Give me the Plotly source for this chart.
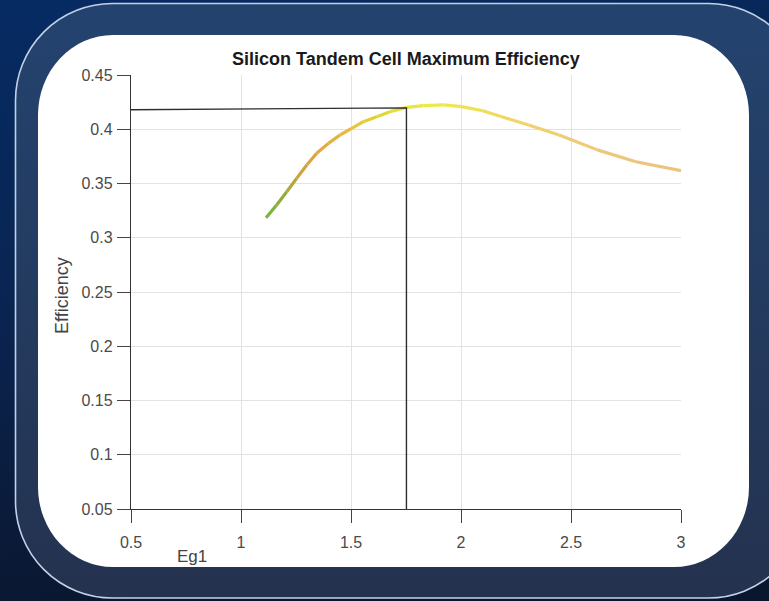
import base64
import plotly.graph_objects as go

# ---------------- data ----------------
eg1 = [1.114, 1.162, 1.208, 1.253, 1.299, 1.344, 1.397, 1.450, 1.503, 1.556, 1.617, 1.677,
       1.753, 1.829, 1.920, 2.003, 2.099, 2.185, 2.307, 2.446, 2.620, 2.795, 3.000]
efficiency = [0.3185, 0.3302, 0.3424, 0.3547, 0.3670, 0.3778, 0.3870, 0.3947, 0.4009, 0.4070,
              0.4116, 0.4162, 0.4202, 0.4217, 0.4224, 0.4208, 0.4171, 0.4116, 0.4039, 0.3947,
              0.3810, 0.3700, 0.3618]
segment_colors = ["#7fb23e", "#94ad3a", "#b2a83a", "#cfa23c", "#dda440", "#e4a944",
                  "#e6b042", "#e6bb3e", "#e6c63a", "#e4d036", "#e2d836", "#e4e03a",
                  "#e8e640", "#ece846", "#eee64c", "#eee254", "#efdc5e", "#f0d666",
                  "#f0d06e", "#eecb76", "#ecc77c", "#ebc47e"]

ref_x = [0.5, 1.752, 1.752]
ref_y = [0.4180, 0.4197, 0.05]

x_ticks = [0.5, 1, 1.5, 2, 2.5, 3]
x_tick_text = ["0.5", "1", "1.5", "2", "2.5", "3"]
y_ticks = [0.05, 0.1, 0.15, 0.2, 0.25, 0.3, 0.35, 0.4, 0.45]
y_tick_text = ["0.05", "0.1", "0.15", "0.2", "0.25", "0.3", "0.35", "0.4", "0.45"]

title_text = "Silicon Tandem Cell Maximum Efficiency"
x_title = "Eg1"
y_title = "Efficiency"

# ---------------- layout geometry (pixels) ----------------
W, H = 769, 601
L, R, T, B = 131, 681, 75, 509  # plot area


def px_x(px):
    return (px - L) / (R - L)


def px_y(py):
    return (B - py) / (B - T)


bg_svg = f"""<svg xmlns='http://www.w3.org/2000/svg' width='{W}' height='{H}' viewBox='0 0 {W} {H}'>
<defs>
<linearGradient id='bg' x1='0' y1='0' x2='0.25' y2='1'>
<stop offset='0' stop-color='#062b63'/><stop offset='0.5' stop-color='#0a2450'/><stop offset='1' stop-color='#0a162e'/>
</linearGradient>
<linearGradient id='fr' x1='0' y1='0' x2='0' y2='1'>
<stop offset='0' stop-color='#23436f'/><stop offset='1' stop-color='#24324f'/>
</linearGradient>
</defs>
<rect x='0' y='0' width='{W}' height='{H}' fill='url(#bg)'/>
<rect x='15.5' y='3.5' width='790' height='594.5' rx='97' ry='97' fill='url(#fr)' stroke='#c3d1e8' stroke-width='1.6'/>
<rect x='38' y='35' width='711' height='532' rx='75' ry='80' fill='#ffffff'/>
</svg>"""
bg_uri = "data:image/svg+xml;base64," + base64.b64encode(bg_svg.encode()).decode()

fig = go.Figure()

# coloured efficiency curve, one segment per pair of read points
for i in range(len(eg1) - 1):
    fig.add_trace(go.Scatter(
        x=eg1[i:i + 2], y=efficiency[i:i + 2], mode="lines",
        line=dict(color=segment_colors[i], width=3.2),
        hoverinfo="skip", showlegend=False,
    ))

# reference lines
fig.add_trace(go.Scatter(
    x=ref_x, y=ref_y, mode="lines",
    line=dict(color="#2e2e2e", width=1.4),
    hoverinfo="skip", showlegend=False,
))

font_family = "Liberation Sans, Arial, sans-serif"

fig.update_layout(
    width=W, height=H, autosize=False,
    margin=dict(l=L, r=W - R, t=T, b=H - B, pad=0),
    paper_bgcolor="#0a2450",
    plot_bgcolor="rgba(0,0,0,0)",
    font=dict(family=font_family, color="#4a4a4a"),
    showlegend=False,
    images=[dict(source=bg_uri, xref="paper", yref="paper",
                 x=px_x(0), y=px_y(0), sizex=W / (R - L), sizey=H / (B - T),
                 xanchor="left", yanchor="top", sizing="stretch", layer="below")],
    annotations=[
        dict(text=f"<b>{title_text}</b>", xref="paper", yref="paper",
             x=0.5, y=px_y(59), xanchor="center", yanchor="middle", showarrow=False,
             font=dict(size=18, color="#1a1a1a", family=font_family)),
        dict(text=x_title, xref="paper", yref="paper",
             x=px_x(192), y=px_y(556), xanchor="center", yanchor="middle", showarrow=False,
             font=dict(size=17, color="#444444", family=font_family)),
        dict(text=y_title, xref="paper", yref="paper", textangle=-90,
             x=px_x(62), y=px_y(296), xanchor="center", yanchor="middle", showarrow=False,
             font=dict(size=18, color="#444444", family=font_family)),
    ],
)

axis_common = dict(
    showgrid=True, gridcolor="#e3e3e3", gridwidth=1,
    showline=True, linecolor="#333333", linewidth=1.4,
    ticks="outside", ticklen=13, tickwidth=1.4, tickcolor="#444444",
    tickfont=dict(size=16, color="#4a4a4a"),
    zeroline=False, fixedrange=True,
)
fig.update_xaxes(range=[0.5, 3], tickvals=x_ticks, ticktext=x_tick_text,
                 ticklabelstandoff=6, **axis_common)
fig.update_yaxes(range=[0.05, 0.45], tickvals=y_ticks, ticktext=y_tick_text,
                 ticklabelstandoff=1, **axis_common)

fig.write_html(
    "out.html",
    config=dict(displayModeBar=False),
    post_script="document.body.style.margin='0';document.body.style.overflow='hidden';",
)
